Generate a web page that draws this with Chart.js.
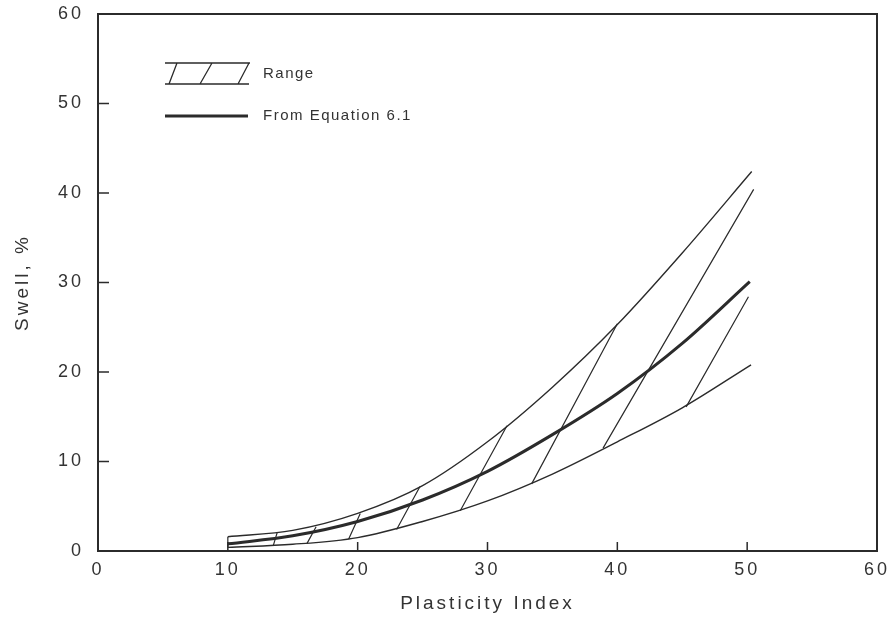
<!DOCTYPE html>
<html>
<head>
<meta charset="utf-8">
<script src="https://cdn.jsdelivr.net/npm/chart.js@4/dist/chart.umd.min.js"></script>
<style>
  html, body { margin: 0; padding: 0; background: #fff; }
  #wrap { width: 893px; height: 624px; }
</style>
</head>
<body>
<div id="wrap"><canvas id="swellChart"></canvas></div>
<script>
// Swell vs plasticity index
const upperX = [10, 15, 20, 25, 30, 35, 40, 45, 50.35];
const upperY = [1.6, 2.3, 4.2, 7.3, 12.2, 18.3, 25.3, 33.3, 42.4];

const eqX = [10, 15, 20, 25, 30, 35, 40, 45, 50.2];
const eqY = [0.8, 1.7, 3.3, 5.7, 8.9, 13.0, 17.6, 23.2, 30.1];

const lowerX = [10, 15, 20, 25, 30, 35, 40, 45, 50.3];
const lowerY = [0.4, 0.75, 1.5, 3.3, 5.6, 8.6, 12.2, 16.0, 20.8];

// hatch strokes: start (on lower curve) -> end
const hatchX0 = [10, 13.5, 16.1, 19.3, 23.0, 27.9, 33.4, 38.9, 45.3];
const hatchY0 = [0.4, 0.6, 0.85, 1.3, 2.4, 4.5, 7.5, 11.5, 16.1];
const hatchX1 = [10, 13.8, 16.8, 20.2, 24.8, 31.5, 40.0, 50.5, 50.1];
const hatchY1 = [1.6, 2.05, 2.7, 4.2, 7.2, 14.0, 25.4, 40.4, 28.4];

const xTicks = [0, 10, 20, 30, 40, 50, 60];
const yTicks = [0, 10, 20, 30, 40, 50, 60];

const ink = '#2b2b2b';
const textColor = '#333';

const toPts = (xs, ys) => xs.map((x, i) => ({ x: x, y: ys[i] }));

const hatchPts = [];
hatchX0.forEach((x, i) => {
  hatchPts.push({ x: x, y: hatchY0[i] });
  hatchPts.push({ x: hatchX1[i], y: hatchY1[i] });
  hatchPts.push({ x: hatchX1[i], y: null });
});

// frame, inward ticks, legend
const decor = {
  id: 'decor',
  beforeDraw(chart) {
    chart.ctx.letterSpacing = '3px';
  },
  afterDatasetsDraw(chart) {
    const { ctx, chartArea: a, scales } = chart;
    ctx.save();
    ctx.strokeStyle = ink;
    ctx.lineWidth = 2;
    ctx.strokeRect(a.left, a.top, a.right - a.left, a.bottom - a.top);

    ctx.lineWidth = 1.5;
    ctx.beginPath();
    xTicks.slice(1, -1).forEach(v => {
      const px = scales.x.getPixelForValue(v);
      ctx.moveTo(px, a.bottom);
      ctx.lineTo(px, a.bottom - 9);
    });
    yTicks.slice(1, -1).forEach(v => {
      const py = scales.y.getPixelForValue(v);
      ctx.moveTo(a.left, py);
      ctx.lineTo(a.left + 11, py);
    });
    ctx.stroke();

    // legend
    const lx = a.left + 67, ly = a.top + 49;
    ctx.lineWidth = 1.3;
    ctx.beginPath();
    ctx.moveTo(lx, ly); ctx.lineTo(lx + 85, ly);
    ctx.moveTo(lx, ly + 21); ctx.lineTo(lx + 84, ly + 21);
    [[4, 12], [35, 47], [73, 84]].forEach(s => {
      ctx.moveTo(lx + s[0], ly + 21);
      ctx.lineTo(lx + s[1], ly);
    });
    ctx.stroke();

    ctx.lineWidth = 3.2;
    ctx.beginPath();
    ctx.moveTo(lx, ly + 53); ctx.lineTo(lx + 83, ly + 53);
    ctx.stroke();

    ctx.letterSpacing = '1.5px';
    ctx.fillStyle = textColor;
    ctx.font = '15px "Liberation Sans", Arial, sans-serif';
    ctx.textBaseline = 'middle';
    ctx.textAlign = 'left';
    ctx.fillText('Range', lx + 98, ly + 11);
    ctx.fillText('From Equation 6.1', lx + 98, ly + 53);
    ctx.restore();
  }
};

const ctx = document.getElementById('swellChart').getContext('2d');
new Chart(ctx, {
  type: 'scatter',
  data: {
    datasets: [
      {
        label: 'Upper',
        data: toPts(upperX, upperY),
        showLine: true,
        borderColor: ink,
        borderWidth: 1.4,
        pointRadius: 0,
        cubicInterpolationMode: 'monotone'
      },
      {
        label: 'From Equation 6.1',
        data: toPts(eqX, eqY),
        showLine: true,
        borderColor: ink,
        borderWidth: 3,
        pointRadius: 0,
        cubicInterpolationMode: 'monotone'
      },
      {
        label: 'Lower',
        data: toPts(lowerX, lowerY),
        showLine: true,
        borderColor: ink,
        borderWidth: 1.4,
        pointRadius: 0,
        cubicInterpolationMode: 'monotone'
      },
      {
        label: 'Range',
        data: hatchPts,
        showLine: true,
        spanGaps: false,
        borderColor: ink,
        borderWidth: 1.2,
        pointRadius: 0,
        tension: 0
      }
    ]
  },
  options: {
    responsive: true,
    maintainAspectRatio: false,
    animation: false,
    layout: { padding: { top: 14, right: 16, left: 0, bottom: 0 } },
    plugins: {
      legend: { display: false },
      tooltip: { enabled: false }
    },
    scales: {
      x: {
        type: 'linear',
        min: 0,
        max: 60,
        afterFit: s => { s.height = 73; s.paddingLeft = 0; s.paddingRight = 0; },
        afterBuildTicks: s => { s.ticks = xTicks.map(v => ({ value: v })); },
        grid: { display: false, drawTicks: false },
        border: { display: false },
        ticks: {
          color: textColor,
          padding: 8,
          font: { family: '"Liberation Sans", Arial, sans-serif', size: 18 }
        },
        title: {
          display: true,
          text: 'Plasticity Index',
          color: textColor,
          padding: { top: 0, bottom: 9 },
          font: { family: '"Liberation Sans", Arial, sans-serif', size: 19 }
        }
      },
      y: {
        type: 'linear',
        min: 0,
        max: 60,
        afterFit: s => { s.width = 98; s.paddingTop = 0; s.paddingBottom = 0; },
        afterBuildTicks: s => { s.ticks = yTicks.map(v => ({ value: v })); },
        grid: { display: false, drawTicks: false },
        border: { display: false },
        ticks: {
          color: textColor,
          padding: 14,
          font: { family: '"Liberation Sans", Arial, sans-serif', size: 18 }
        },
        title: {
          display: true,
          text: 'Swell, %',
          color: textColor,
          padding: { top: 11, bottom: 0 },
          font: { family: '"Liberation Sans", Arial, sans-serif', size: 19 }
        }
      }
    }
  },
  plugins: [decor]
});
</script>
</body>
</html>
